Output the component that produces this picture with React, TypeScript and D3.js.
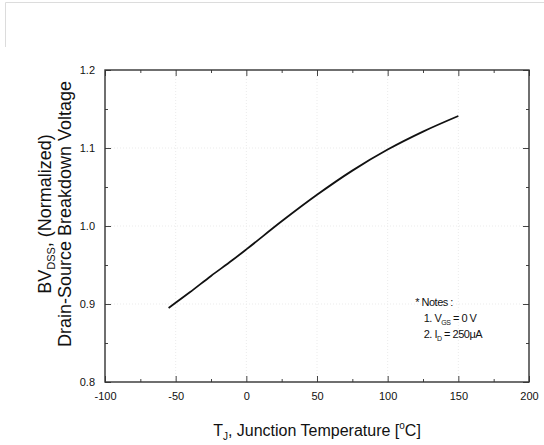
import React, { useEffect, useRef } from 'react';
import * as d3 from 'd3';

// Junction temperature [°C] and normalized breakdown voltage
const temps = [-55, -40, -25, -10, 0, 25, 50, 75, 100, 125, 150];
const bvdss = [0.895, 0.915, 0.936, 0.956, 0.970, 1.006, 1.040, 1.071, 1.098, 1.121, 1.141];

const xMajor = [-100, -50, 0, 50, 100, 150, 200];
const xMinor = [-75, -25, 25, 75, 125, 175];
const yMajor = [0.8, 0.9, 1.0, 1.1, 1.2];
const yMinor = [0.85, 0.95, 1.05, 1.15];

const notes = ['* Notes :', '1. V|GS| = 0 V', '2. I|D| = 250\u03BCA'];

const W = 544;
const H = 445;

const App: React.FC = () => {
  const ref = useRef<SVGSVGElement>(null);

  useEffect(() => {
    if (!ref.current) return;
    const svg = d3.select(ref.current);
    svg.selectAll('*').remove();

    const margin = { top: 70, right: 15, bottom: 63, left: 105 };
    const iw = W - margin.left - margin.right;
    const ih = H - margin.top - margin.bottom;
    const font = "'Liberation Sans', Arial, sans-serif";

    // faint page frame in the top-left corner
    svg.append('path')
      .attr('d', `M5.5,47 V2.5 H${W}`)
      .attr('fill', 'none')
      .attr('stroke', '#dcdcdc')
      .attr('stroke-width', 1);

    const g = svg.append('g').attr('transform', `translate(${margin.left},${margin.top})`);

    const x = d3.scaleLinear().domain([-100, 200]).range([0, iw]);
    const y = d3.scaleLinear().domain([0.8, 1.2]).range([ih, 0]);

    // dotted grid at major ticks
    const grid = g.append('g')
      .attr('stroke', '#ebebeb')
      .attr('stroke-width', 1)
      .attr('stroke-dasharray', '1,2');
    grid.selectAll('.gx').data(xMajor.slice(1, -1)).join('line')
      .attr('x1', d => x(d)).attr('x2', d => x(d))
      .attr('y1', 0).attr('y2', ih);
    grid.selectAll('.gy').data(yMajor.slice(1, -1)).join('line')
      .attr('y1', d => y(d)).attr('y2', d => y(d))
      .attr('x1', 0).attr('x2', iw);

    // inward ticks on all four sides
    const tickColor = '#444';
    const addAxis = (axis: d3.Axis<d3.NumberValue>, transform: string, labels: boolean) => {
      const a = g.append('g').attr('transform', transform).call(axis);
      a.select('.domain').remove();
      a.selectAll('line').attr('stroke', tickColor).attr('stroke-width', 1);
      a.selectAll('text')
        .attr('fill', '#111')
        .style('font-family', font)
        .style('font-size', '11px');
      if (!labels) a.selectAll('text').remove();
      return a;
    };

    const fmtX = (d: d3.NumberValue) => String(d);
    const fmtY = (d: d3.NumberValue) => d3.format('.1f')(d as number);

    addAxis(d3.axisBottom(x).tickValues(xMajor).tickSizeInner(-6).tickSizeOuter(0).tickPadding(10).tickFormat(fmtX),
      `translate(0,${ih})`, true);
    addAxis(d3.axisBottom(x).tickValues(xMinor).tickSizeInner(-3).tickSizeOuter(0),
      `translate(0,${ih})`, false);
    addAxis(d3.axisTop(x).tickValues(xMajor).tickSizeInner(-6).tickSizeOuter(0), 'translate(0,0)', false);
    addAxis(d3.axisTop(x).tickValues(xMinor).tickSizeInner(-3).tickSizeOuter(0), 'translate(0,0)', false);

    addAxis(d3.axisLeft(y).tickValues(yMajor).tickSizeInner(-6).tickSizeOuter(0).tickPadding(10).tickFormat(fmtY),
      'translate(0,0)', true);
    addAxis(d3.axisLeft(y).tickValues(yMinor).tickSizeInner(-3).tickSizeOuter(0), 'translate(0,0)', false);
    addAxis(d3.axisRight(y).tickValues(yMajor).tickSizeInner(-6).tickSizeOuter(0), `translate(${iw},0)`, false);
    addAxis(d3.axisRight(y).tickValues(yMinor).tickSizeInner(-3).tickSizeOuter(0), `translate(${iw},0)`, false);

    // frame
    g.append('rect')
      .attr('width', iw).attr('height', ih)
      .attr('fill', 'none')
      .attr('stroke', '#333')
      .attr('stroke-width', 1.4);

    // curve
    const pts = temps.map((t, i) => [t, bvdss[i]] as [number, number]);
    g.append('path')
      .datum(pts)
      .attr('fill', 'none')
      .attr('stroke', '#111')
      .attr('stroke-width', 1.8)
      .attr('d', d3.line<[number, number]>()
        .x(d => x(d[0]))
        .y(d => y(d[1]))
        .curve(d3.curveMonotoneX));

    // notes
    const nt = g.append('g')
      .style('font-family', font)
      .style('font-size', '11px')
      .style('letter-spacing', '-0.5px')
      .attr('fill', '#111');
    notes.forEach((line, i) => {
      const t = nt.append('text')
        .attr('x', x(i === 0 ? 119.5 : 125.5))
        .attr('y', y(1.0) + 80 + i * 16);
      const parts = line.split('|');
      parts.forEach((p, j) => {
        const s = t.append('tspan').text(p);
        if (j === 1) s.attr('dy', 3).style('font-size', '7px');
        if (j === 2) s.attr('dy', -3);
      });
    });

    // x title
    const xt = svg.append('text')
      .attr('x', margin.left + iw / 2)
      .attr('y', 436)
      .attr('text-anchor', 'middle')
      .style('font-family', font)
      .style('font-size', '16px')
      .attr('fill', '#111');
    xt.append('tspan').text('T');
    xt.append('tspan').text('J').attr('dy', 4).style('font-size', '10px');
    xt.append('tspan').text(', Junction Temperature [').attr('dy', -4);
    xt.append('tspan').text('o').attr('dy', -7).style('font-size', '10px');
    xt.append('tspan').text('C]').attr('dy', 7);

    // y title (two rotated lines)
    const cy = margin.top + ih / 2 - 12;
    const yt1 = svg.append('text')
      .attr('transform', `translate(51,${cy}) rotate(-90)`)
      .attr('text-anchor', 'middle')
      .style('font-family', font)
      .style('font-size', '18px')
      .attr('fill', '#111');
    yt1.append('tspan').text('BV');
    yt1.append('tspan').text('DSS').attr('dy', 4).style('font-size', '11px');
    yt1.append('tspan').text(', (Normalized)').attr('dy', -4);

    svg.append('text')
      .attr('transform', `translate(71,${cy}) rotate(-90)`)
      .attr('text-anchor', 'middle')
      .style('font-family', font)
      .style('font-size', '18px')
      .attr('fill', '#111')
      .text('Drain-Source Breakdown Voltage');
  }, []);

  return (
    <div style={{ position: 'absolute', left: 0, top: 0, width: W, height: H, background: '#fff' }}>
      <svg ref={ref} width={W} height={H} style={{ display: 'block' }} />
    </div>
  );
};

export default App;
